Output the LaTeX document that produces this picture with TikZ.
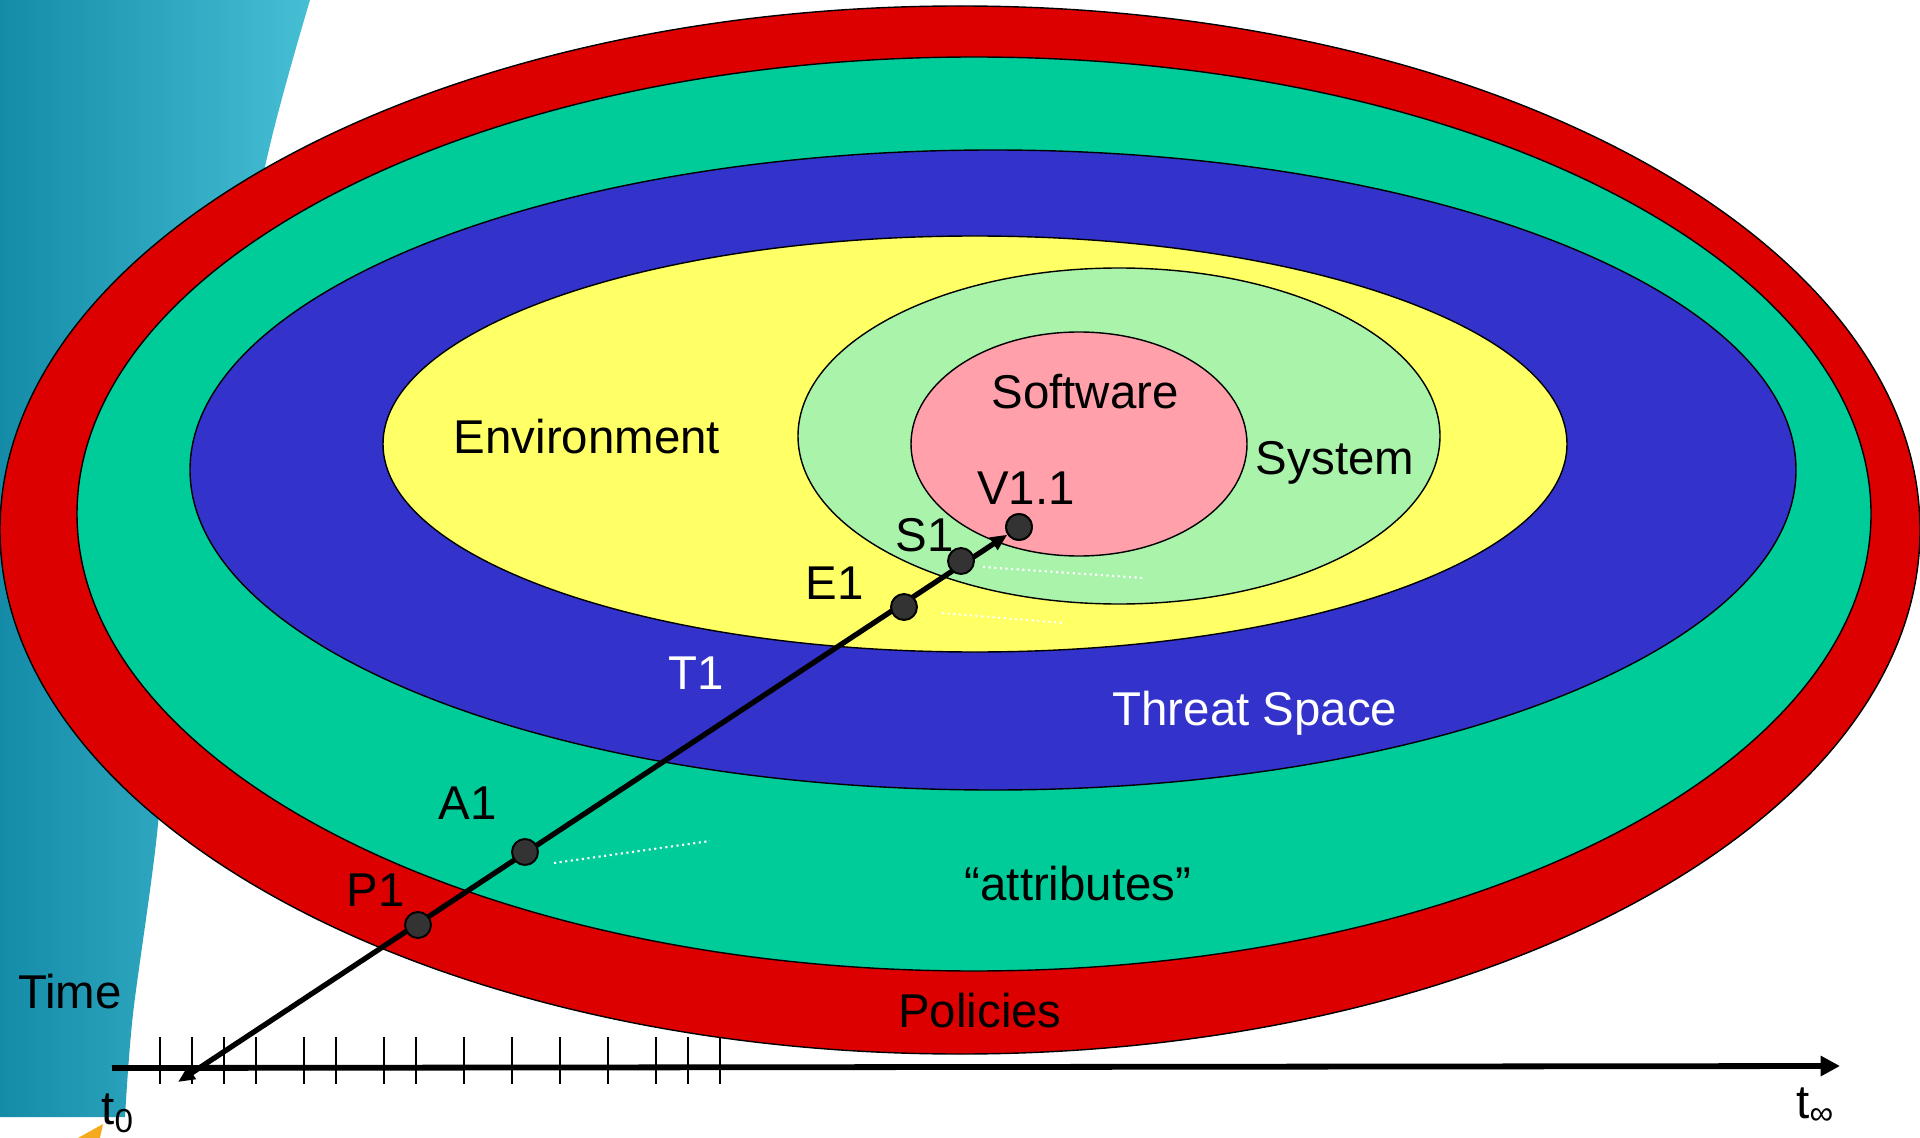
\documentclass[tikz,border=0pt]{standalone}
\usepackage{fontspec}
\setmainfont{Liberation Sans}
\usetikzlibrary{arrows.meta}
\definecolor{polred}{RGB}{221,0,0}
\definecolor{attgreen}{RGB}{0,204,153}
\definecolor{thrblue}{RGB}{51,51,204}
\definecolor{envyellow}{RGB}{255,255,102}
\definecolor{syslgreen}{RGB}{170,243,170}
\definecolor{swpink}{RGB}{255,160,170}
\definecolor{dotgray}{RGB}{51,51,51}
\definecolor{tealdark}{RGB}{20,140,168}
\definecolor{teallight}{RGB}{70,190,212}
\definecolor{orangebit}{RGB}{245,170,30}
\tikzset{
  ring/.style={draw=black, line width=0.8pt},
  lbl/.style={font=\fontsize{27}{30}\selectfont, anchor=base, inner sep=0pt},
  wlbl/.style={lbl, text=white},
  pointdot/.style={circle, fill=dotgray, draw=black, line width=1.1pt, minimum size=0.52cm, inner sep=0pt},
  trail/.style={white, dotted, line width=1.2pt},
  tickmark/.style={black, line width=0.9pt},
}
\begin{document}
\begin{tikzpicture}[x=0.02cm,y=-0.02cm]
\useasboundingbox (0,0) rectangle (1920,1138);
\fill[white] (0,0) rectangle (1920,1138);
% background decoration
\shade[left color=tealdark, right color=teallight] (0,0) --
  plot[smooth] coordinates {(310,0) (270,145) (215,400) (175,620) (157,834) (133,1014) (125,1117)}
  -- (0,1117) -- cycle;
\fill[orangebit] (78,1138) -- (103,1124) -- (100,1138) -- cycle;
% ellipses
\draw[ring, fill=polred] (960,530) ellipse [x radius=960, y radius=524];
\draw[ring, fill=attgreen] (974,514) ellipse [x radius=897, y radius=457];
\draw[ring, fill=thrblue] (993,470) ellipse [x radius=803, y radius=320];
\draw[ring, fill=envyellow] (975,444) ellipse [x radius=592, y radius=208];
\draw[ring, fill=syslgreen] (1119,436) ellipse [x radius=321, y radius=168];
\draw[ring, fill=swpink] (1079,444) ellipse [x radius=168, y radius=112];
% dotted trails
\draw[trail] (983,567) -- (1143,578);
\draw[trail] (942,613) -- (1063,623);
\draw[trail] (554,863) -- (710,841);
% path with points
\coordinate (tstart) at (178,1082);
\node[pointdot] (v) at (1019,527) {};
\draw[line width=3pt, {Triangle[length=9.5pt,width=8pt]}-{Triangle[length=9.5pt,width=8pt]}] (tstart) -- (v);
\node[pointdot] (v2) at (1019,527) {};
\node[pointdot] (s) at (961,561) {};
\node[pointdot] (e) at (904,607) {};
\node[pointdot] (a) at (525,852) {};
\node[pointdot] (p) at (418,925) {};
% labels
\node[lbl] (lsw) at (1085,408) {Software};
\node[lbl] (lsys) at (1335,474) {System};
\node[lbl] (lenv) at (587,453) {Environment};
\node[lbl] (lv) at (1026,504) {V1.1};
\node[lbl] (ls) at (925,551) {S1};
\node[lbl] (le) at (835,599) {E1};
\node[wlbl] (lt) at (696,689) {T1};
\node[wlbl] (lts) at (1255,725) {Threat Space};
\node[lbl] (la) at (468,819) {A1};
\node[lbl] (lattr) at (1078,900) {“attributes”};
\node[lbl] (lp) at (376,906) {P1};
\node[lbl] (lpol) at (980,1027) {Policies};
\node[lbl] (ltime) at (70,1008) {Time};
\node[lbl, anchor=base west] (lt0) at (101,1124) {t\textsubscript{0}};
\node[lbl, anchor=base west] (ltinf) at (1796,1118) {t\textsubscript{∞}};
% time axis
\coordinate (axstart) at (112,1068);
\coordinate (axend) at (1840,1066);
\draw[line width=3.3pt, -{Triangle[length=11pt,width=11pt]}] (axstart) -- (axend);
\foreach \tx in {160,192,224,256,304,336,384,416,464,512,560,608,656,688,720}
  \draw[tickmark] (\tx,1037) -- (\tx,1084);
\end{tikzpicture}
\end{document}
